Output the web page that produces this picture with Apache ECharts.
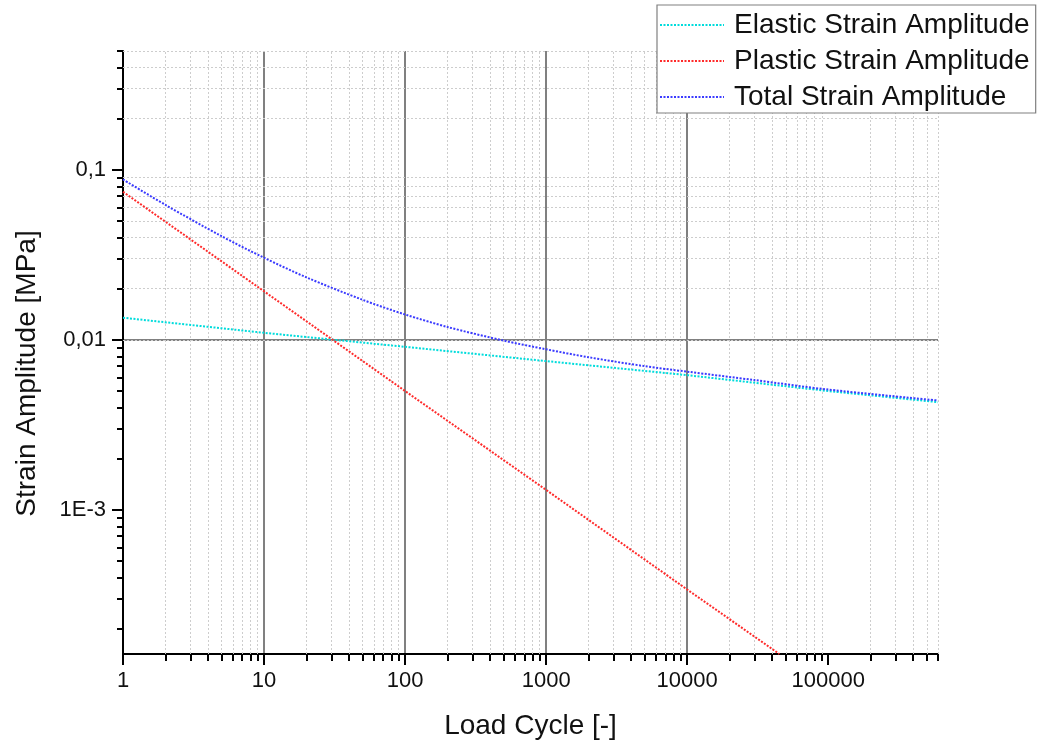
<!DOCTYPE html>
<html>
<head>
<meta charset="utf-8">
<script src="https://cdn.jsdelivr.net/npm/echarts@6/dist/echarts.min.js"></script>
<style>
html,body{margin:0;padding:0;background:#fff;}
#chart{width:1040px;height:749px;}
</style>
</head>
<body>
<div id="chart"></div>
<script>
// ---- data ----
const seriesNames = ['Elastic Strain Amplitude', 'Plastic Strain Amplitude', 'Total Strain Amplitude'];

const cyclesElastic = [1, 10, 100, 1000, 10000, 100000, 600000];
const elasticStrain = [0.0135, 0.0110, 0.0091, 0.0075, 0.0062, 0.0050, 0.0043];

const cyclesPlastic = [1, 10, 100, 1000, 10000, 45000];
const plasticStrain = [0.0743, 0.0193, 0.0050, 0.00131, 0.00034, 0.000142];

const cyclesTotal = [1, 2, 5, 10, 20, 50, 100, 200, 500, 1000, 2000, 5000, 10000, 30000, 100000, 600000];
const totalStrain = [0.0878, 0.0622, 0.0407, 0.0304, 0.0233, 0.0172, 0.0141, 0.0119, 0.0099, 0.0088, 0.0079, 0.0070, 0.0065, 0.0058, 0.0051, 0.0044];

// axis ticks and labels
const xMajorTicks = [1, 10, 100, 1000, 10000, 100000];
const xTickLabels = ['1', '10', '100', '1000', '10000', '100000'];
const yMajorTicks = [0.001, 0.01, 0.1];
const yTickLabels = ['1E-3', '0,01', '0,1'];
const minorMultipliers = [2, 3, 4, 5, 6, 7, 8, 9];
const xRange = [1, 600000];
const yRange = [0.000142, 0.5];

// ---- build ----
function minorTicks(majors, range) {
  const out = [];
  majors.forEach(function (m) {
    minorMultipliers.forEach(function (k) {
      const v = +(m * k).toPrecision(6);
      if (v > range[0] && v <= range[1] + 1e-12) out.push(v);
    });
  });
  return out;
}
const xMinor = minorTicks([1, 10, 100, 1000, 10000, 100000], xRange);
const yMinor = minorTicks([0.0001, 0.001, 0.01, 0.1], yRange);

function pairs(xs, ys) { return xs.map(function (x, i) { return [x, ys[i]]; }); }
function labelFor(ticks, labels) {
  return function (v) {
    for (let i = 0; i < ticks.length; i++) {
      if (Math.abs(v - ticks[i]) / ticks[i] < 1e-6) return labels[i];
    }
    return '';
  };
}

const FONT = '"Liberation Sans", Arial, Helvetica, sans-serif';
const colors = ['#00dcdc', '#ff2b2b', '#3b3bff'];

const chart = echarts.init(document.getElementById('chart'), null, {renderer: 'canvas'});

const option = {
  animation: false,
  backgroundColor: '#ffffff',
  textStyle: {fontFamily: FONT},
  grid: {left: 123, right: 102, top: 51, bottom: 95, containLabel: false},
  legend: {
    data: seriesNames,
    orient: 'vertical',
    left: 657,
    top: 5,
    z: 20,
    itemWidth: 64,
    itemHeight: 14,
    itemGap: 6,
    padding: [5, 6, 1, 2],
    borderColor: '#808080',
    borderWidth: 1.2,
    backgroundColor: '#ffffff',
    selectedMode: false,
    itemStyle: {opacity: 0},
    textStyle: {fontSize: 28, fontFamily: FONT, color: '#111', lineHeight: 30, padding: [0, 0, 0, 5]}
  },
  xAxis: [
    {
      type: 'log', logBase: 10, min: xRange[0], max: xRange[1],
      name: 'Load Cycle [-]', nameLocation: 'middle', nameGap: 58,
      nameTextStyle: {fontSize: 28, color: '#111', fontFamily: FONT},
      axisLine: {show: true, onZero: false, lineStyle: {color: '#000', width: 2}},
      axisTick: {show: true, inside: false, length: 11, customValues: xMajorTicks, lineStyle: {color: '#000', width: 2}},
      axisLabel: {show: true, customValues: xMajorTicks, formatter: labelFor(xMajorTicks, xTickLabels), fontSize: 22, color: '#111', margin: 16, fontFamily: FONT},
      splitLine: {show: true, showMinLine: false, showMaxLine: false, lineStyle: {color: '#808080', width: 2}},
      minorTick: {show: false}, minorSplitLine: {show: false}
    },
    {
      type: 'log', logBase: 10, min: xRange[0], max: xRange[1], position: 'bottom',
      axisLine: {show: false, onZero: false},
      axisTick: {show: true, inside: false, length: 7, customValues: xMinor, lineStyle: {color: '#000', width: 2}},
      axisLabel: {show: false},
      splitLine: {show: false}
    }
  ],
  yAxis: [
    {
      type: 'log', logBase: 10, min: yRange[0], max: yRange[1],
      name: 'Strain Amplitude [MPa]', nameLocation: 'middle', nameGap: 82,
      nameTextStyle: {fontSize: 28, color: '#111', fontFamily: FONT, padding: [0, 42, 0, 0]},
      axisLine: {show: true, onZero: false, lineStyle: {color: '#000', width: 2}},
      axisTick: {show: true, inside: false, length: 11, customValues: yMajorTicks, lineStyle: {color: '#000', width: 2}},
      axisLabel: {show: true, customValues: yMajorTicks, formatter: labelFor(yMajorTicks, yTickLabels), fontSize: 22, color: '#111', margin: 17, fontFamily: FONT},
      splitLine: {show: true, showMinLine: false, showMaxLine: false, lineStyle: {color: '#808080', width: 2}},
      minorTick: {show: false}, minorSplitLine: {show: false}
    },
    {
      type: 'log', logBase: 10, min: yRange[0], max: yRange[1], position: 'left',
      axisLine: {show: false, onZero: false},
      axisTick: {show: true, inside: false, length: 6, customValues: yMinor, lineStyle: {color: '#000', width: 2}},
      axisLabel: {show: false},
      splitLine: {show: false}
    }
  ],
  series: [
    {
      name: 'minor-grid', type: 'line', data: [], z: 1, silent: true,
      markLine: {
        silent: true, symbol: ['none', 'none'], animation: false, z: 1,
        label: {show: false},
        lineStyle: {color: '#cdcdcd', type: [2, 2], width: 1},
        emphasis: {disabled: true},
        data: xMinor.map(function (v) { return {xAxis: v}; }).concat(yMinor.map(function (v) { return {yAxis: v}; }))
      }
    },
    {
      name: seriesNames[0], type: 'line', data: pairs(cyclesElastic, elasticStrain),
      showSymbol: false, symbol: 'none', z: 3, color: colors[0],
      lineStyle: {color: colors[0], width: 2, type: [2, 1.5]}
    },
    {
      name: seriesNames[1], type: 'line', data: pairs(cyclesPlastic, plasticStrain),
      showSymbol: false, symbol: 'none', z: 3, color: colors[1],
      lineStyle: {color: colors[1], width: 2, type: [2, 1.5]}
    },
    {
      name: seriesNames[2], type: 'line', data: pairs(cyclesTotal, totalStrain),
      showSymbol: false, symbol: 'none', smooth: 0.3, z: 3, color: colors[2],
      lineStyle: {color: colors[2], width: 2, type: [2, 1.5]}
    }
  ]
};
chart.setOption(option);
</script>
</body>
</html>
